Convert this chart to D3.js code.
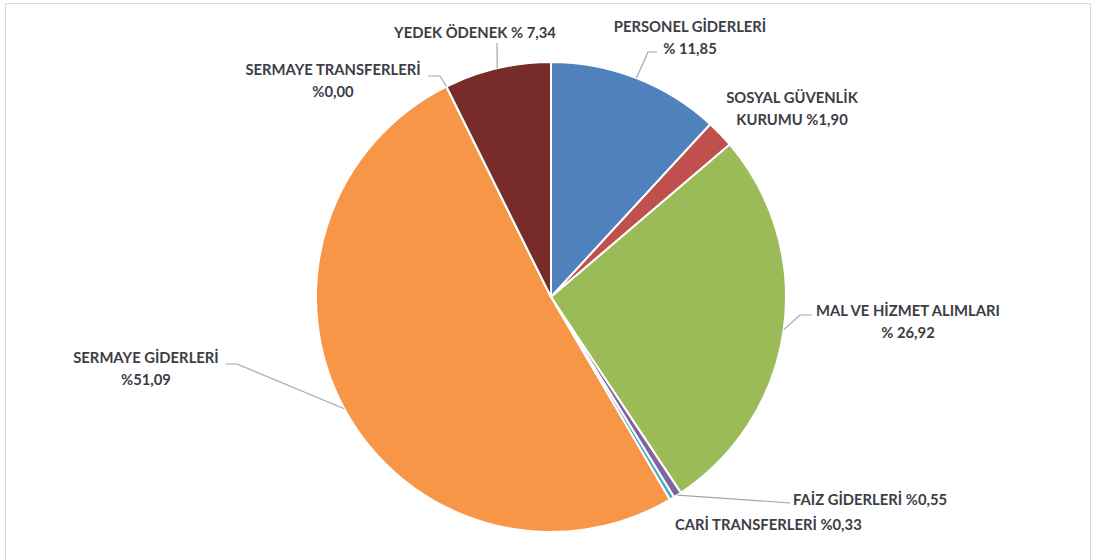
<!DOCTYPE html>
<html>
<head>
<meta charset="utf-8">
<script src="https://cdn.jsdelivr.net/npm/d3@7"></script>
<style>
  html, body { margin: 0; padding: 0; background: #fff; }
  svg { display: block; }
  text { font-family: Lato, "Open Sans", sans-serif; font-weight: 700; fill: #3d3d45; }
</style>
</head>
<body>
<svg id="chart" width="1093" height="560"></svg>
<script>
// ---- data ----
const categories = [
  "PERSONEL GİDERLERİ",
  "SOSYAL GÜVENLİK KURUMU",
  "MAL VE HİZMET ALIMLARI",
  "FAİZ GİDERLERİ",
  "CARİ TRANSFERLERİ",
  "SERMAYE GİDERLERİ",
  "SERMAYE TRANSFERLERİ",
  "YEDEK ÖDENEK"
];
const values = [11.85, 1.90, 26.92, 0.55, 0.33, 51.09, 0.00, 7.34];
const labelLines = [
  ["PERSONEL GİDERLERİ", "% 11,85"],
  ["SOSYAL GÜVENLİK", "KURUMU %1,90"],
  ["MAL VE HİZMET ALIMLARI", "% 26,92"],
  ["FAİZ GİDERLERİ %0,55"],
  ["CARİ TRANSFERLERİ %0,33"],
  ["SERMAYE GİDERLERİ", "%51,09"],
  ["SERMAYE TRANSFERLERİ", "%0,00"],
  ["YEDEK ÖDENEK % 7,34"]
];
const colors = ["#4F81BD", "#C0504D", "#9BBB59", "#8064A2", "#4BACC6", "#F79646", "#2C4D75", "#772C2A"];

// ---- layout (label placement) ----
const labelLayout = [
  { x: 690, y: 32, anchor: "middle", elbow: [[648, 52], [657, 52]] },
  { x: 792, y: 103, anchor: "middle", elbow: null },
  { x: 908, y: 316, anchor: "middle", elbow: [[800, 315], [812, 315]] },
  { x: 793, y: 505, anchor: "start", elbow: [[790, 503]] },
  { x: 675, y: 530, anchor: "start", elbow: null },
  { x: 146, y: 363, anchor: "middle", elbow: [[237, 364], [226, 364]] },
  { x: 333, y: 75, anchor: "middle", elbow: [[440, 76], [428, 76]] },
  { x: 475, y: 38, anchor: "middle", elbow: [[497, 43]] }
];
const lineGap = 22;

const svg = d3.select("#chart");

// frame
svg.append("path")
  .attr("d", "M5.5,570 L5.5,3.5 L1090.5,3.5 L1090.5,570")
  .attr("fill", "none").attr("stroke", "#d9d9d9").attr("stroke-width", 1);

const cx = 551, cy = 297, R = 235;
const g = svg.append("g").attr("transform", `translate(${cx},${cy})`);

const pie = d3.pie().sort(null).value(d => d)(values);
const arc = d3.arc().innerRadius(0).outerRadius(R);

g.selectAll("path.slice")
  .data(pie)
  .join("path")
  .attr("class", "slice")
  .attr("d", arc)
  .attr("fill", (d, i) => colors[i])
  .attr("stroke", "#fff")
  .attr("stroke-width", 2)
  .attr("stroke-linejoin", "round");

// leader lines
pie.forEach((d, i) => {
  const L = labelLayout[i];
  if (!L.elbow) return;
  const a = (d.startAngle + d.endAngle) / 2;
  const p0 = [cx + R * Math.sin(a), cy - R * Math.cos(a)];
  const pts = [p0, ...L.elbow];
  svg.append("path")
    .attr("d", d3.line()(pts))
    .attr("fill", "none")
    .attr("stroke", "#a6a6a6")
    .attr("stroke-width", 1.2);
});

// labels
labelLines.forEach((lines, i) => {
  const L = labelLayout[i];
  const t = svg.append("text")
    .attr("x", L.x).attr("y", L.y)
    .attr("text-anchor", L.anchor)
    .attr("font-size", 14.8);
  lines.forEach((s, k) => {
    t.append("tspan").attr("x", L.x).attr("dy", k === 0 ? 0 : lineGap).text(s);
  });
});
</script>
</body>
</html>
